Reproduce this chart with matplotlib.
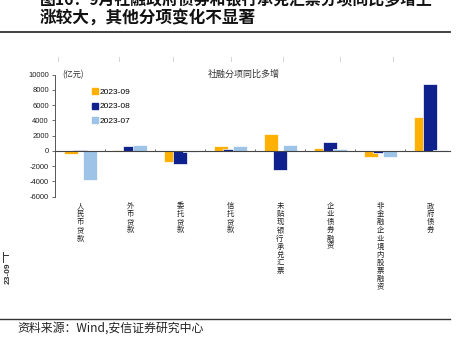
import matplotlib
matplotlib.use("Agg")
import matplotlib.pyplot as plt
from matplotlib.lines import Line2D
import numpy as np

plt.rcParams['font.family'] = ['Noto Sans CJK SC', 'DejaVu Sans']

categories = ["人民币贷款", "外币贷款", "委托贷款", "信托贷款",
              "未贴现银行承兑汇票", "企业债券融资", "非金融企业境内股票融资", "政府债券"]
series_names = ["2023-09", "2023-08", "2023-07"]
s_2023_09 = [-350, 130, -1440, 610, 2270, 350, -740, 4420]
s_2023_08 = [175, 650, -1750, 260, -2490, 1220, -220, 8790]
s_2023_07 = [-3850, 790, -200, 650, 790, 300, -740, 175]
y_ticks = [-6000, -4000, -2000, 0, 2000, 4000, 6000, 8000, 10000]

colors = ["#FFB000", "#0F218C", "#9DC3E6"]
W, H = 469, 342
fig = plt.figure(figsize=(W / 100, H / 100), dpi=100)

ax = fig.add_axes([55 / W, 1 - 196.7 / H, 400 / W, 122 / H])
x = np.arange(len(categories))
offsets = [-0.19, 0.0, 0.19]
for vals, off, col, name in zip([s_2023_09, s_2023_08, s_2023_07], offsets, colors, series_names):
    ax.bar(x + off, vals, width=0.28, color=col, edgecolor="white", linewidth=0.5, label=name, zorder=2)

ax.set_xlim(-0.5, len(categories) - 0.5)
ax.set_ylim(-6000, 10000)
ax.set_yticks(y_ticks)
ax.set_yticklabels([str(v) for v in y_ticks], family="Liberation Sans", fontsize=5.5, color="#222222")
ax.tick_params(axis="y", length=2.5, width=0.6, pad=2, color="#555555")
ax.set_xticks([])
for s in ["top", "right", "bottom"]:
    ax.spines[s].set_visible(False)
ax.spines["left"].set_color("#555555")
ax.spines["left"].set_linewidth(0.7)

ax.axhline(0, xmin=0, xmax=0.988, color="#444444", linewidth=0.8, zorder=3)
ax.vlines(x[:-1] + 0.5, 0, 280, color="#555555", linewidth=0.6, zorder=3)

# stacked vertical category labels
for xi, cat in zip(x, categories):
    ax.text(xi, -6700, "\n".join(cat), ha="center", va="top", fontsize=5.3,
            linespacing=1.02, color="#222222")

ax.text(-0.35, 10000, "(亿元)", ha="left", va="center", fontsize=5.8, color="#333333")
ax.text(3.28, 10000, "社融分项同比多增", ha="center", va="center", fontsize=6.5, color="#333333")

handles = [Line2D([0], [0], marker="s", linestyle="", markersize=4.2,
                  markerfacecolor=c, markeredgecolor=c) for c in colors]
leg = ax.legend(handles, series_names, loc="upper left", bbox_to_anchor=(0.075, 0.955),
                frameon=False, handlelength=0.6, handletextpad=0.2, labelspacing=0.85,
                prop={"family": "Liberation Sans", "size": 6})

# page furniture around the chart
fig.text(40 / W, 1 - 0.5 / H, "图16：9月社融政府债券和银行承兑汇票分项同比多增上",
         ha="left", va="center", fontsize=11.4, fontweight="semibold", color="#111111")
fig.text(40 / W, 1 - 18 / H, "涨较大，其他分项变化不显著",
         ha="left", va="center", fontsize=12, fontweight="semibold", color="#111111")
fig.add_artist(Line2D([0, 450 / W], [1 - 32 / H, 1 - 32 / H], color="#333333", linewidth=1.3))

for px in [58, 119, 173, 231, 283, 340, 393]:
    fig.add_artist(Line2D([px / W, px / W], [1 - 57 / H, 1 - 61 / H], color="#cccccc", linewidth=0.6))

fig.add_artist(Line2D([3 / W, 3 / W], [1 - 252 / H, 1 - 262 / H], color="#333333", linewidth=0.7))
fig.add_artist(Line2D([3 / W, 8 / W], [1 - 255 / H, 1 - 255 / H], color="#333333", linewidth=0.7))
fig.text(8 / W, 1 - 273 / H, "23-09", rotation=90, ha="center", va="center",
         fontsize=6, fontweight="bold", family="Liberation Sans", color="#333333")

fig.add_artist(Line2D([0, 450 / W], [1 - 319 / H, 1 - 319 / H], color="#333333", linewidth=1.0))
fig.text(17 / W, 1 - 328 / H, "资料来源：Wind,安信证券研究中心", ha="left", va="center",
         fontsize=8.6, style="italic", color="#222222")

fig.savefig("out.png", dpi=100, facecolor="white")
